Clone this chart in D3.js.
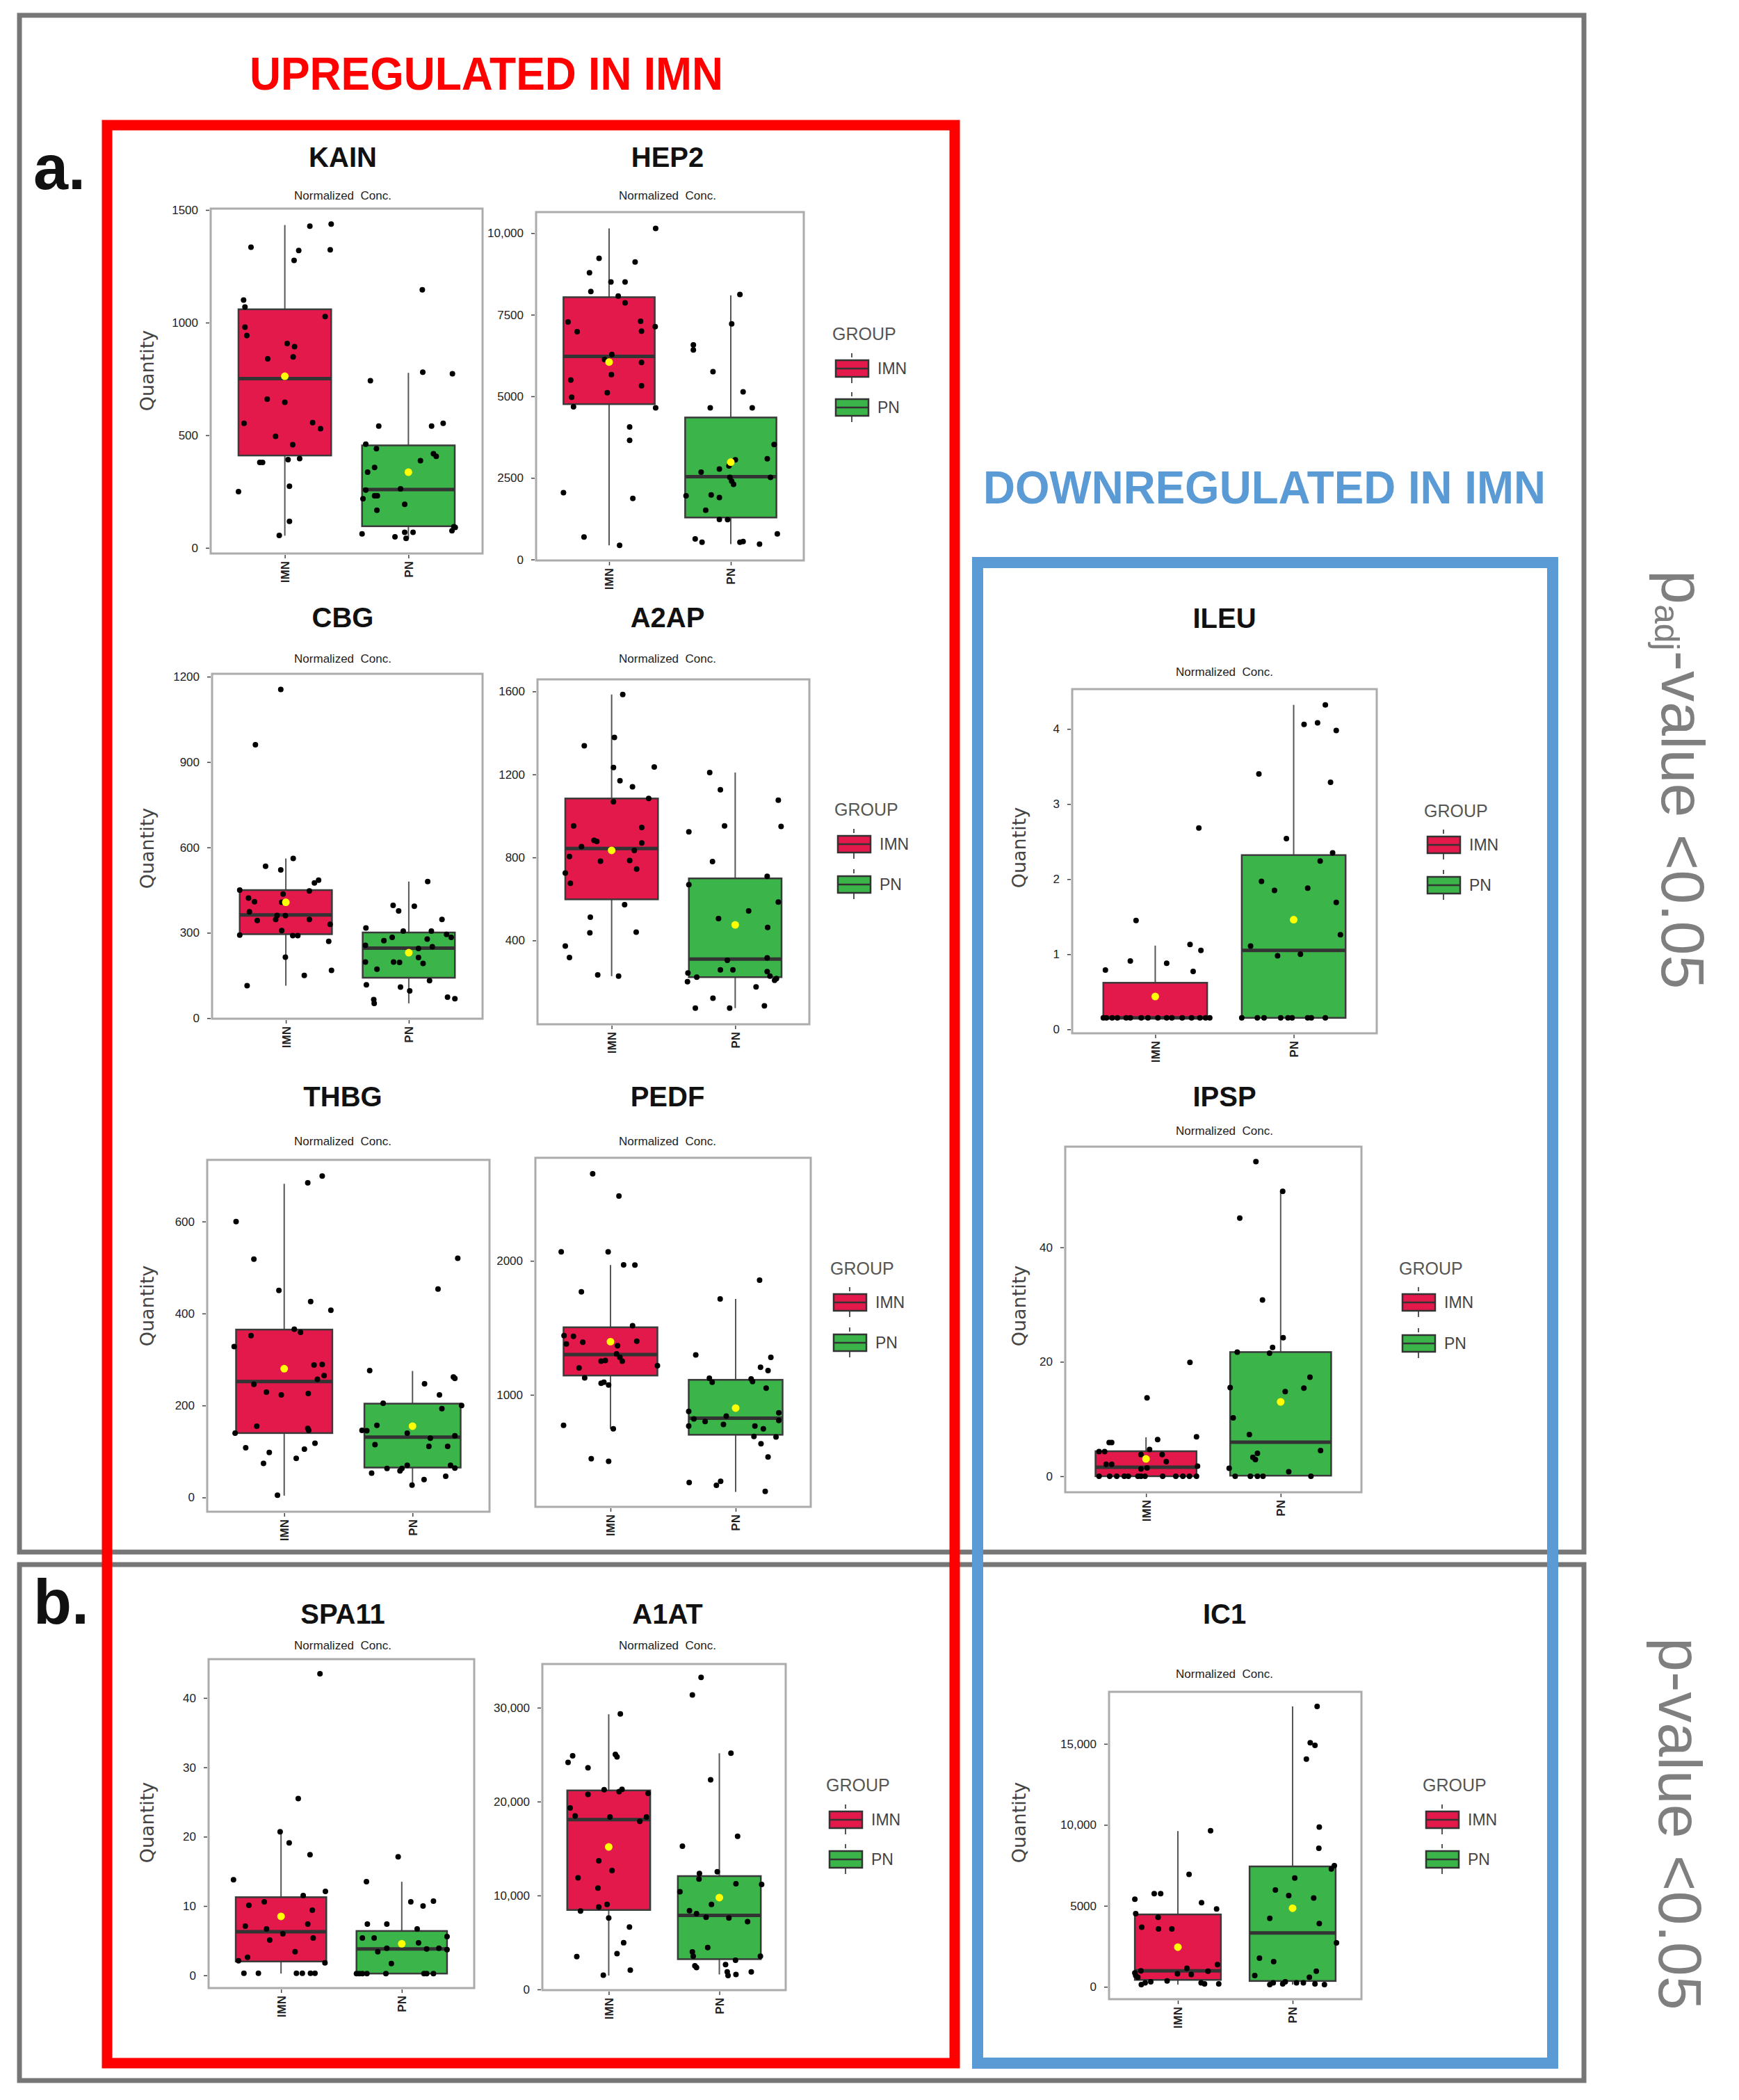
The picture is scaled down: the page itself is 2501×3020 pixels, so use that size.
<!DOCTYPE html>
<html><head><meta charset="utf-8">
<script src="https://cdn.jsdelivr.net/npm/d3@7"></script>
<style>body{margin:0;background:#fff} svg{display:block}</style>
</head><body>
<svg id="c" width="2501" height="3020"></svg>
<script>
// ---------- DATA ----------
const groups = ["IMN", "PN"];
const groupColors = ["#E3194B", "#3BB44A"];
// box stats per group: [q1, median, q3, whiskerLow, whiskerHigh, mean]
// points per group: [value, jitter (fraction of half box width)]
const kainBox = [[410, 751, 1059, 54, 1433, 762], [96, 259, 455, 42, 777, 336]];
const kainPts = [
  [[1335,-0.73],[1276,0.2],[1320,0.3],[1428,0.54],[1437,1.0],[1323,0.98],[1100,-0.89],[1069,-0.86],[980,-0.86],[943,-0.82],[1027,0.87],[907,0.05],[893,0.21],[839,-0.37],[848,0.18],[660,-0.38],[646,0],[553,-0.88],[495,-0.2],[556,0.6],[529,0.77],[458,0.17],[379,-0.54],[379,-0.48],[392,0.07],[396,0.32],[250,-1.0],[274,0.1],[118,0.1],[55,-0.12]],
  [[1146,0.3],[742,-0.82],[780,0.31],[773,0.95],[541,-0.64],[541,0.5],[553,0.75],[460,-0.92],[440,-0.69],[418,0.54],[406,0.6],[387,0.26],[336,-0.88],[357,-0.73],[257,-0.92],[262,-0.17],[218,-0.98],[231,-0.73],[231,-0.67],[167,-0.68],[193,-0.08],[62,-1.0],[49,-0.29],[69,-0.08],[69,0.1],[42,-0.05],[76,0.94],[94,0.98],[91,1.01]]
];
const hep2Box = [[4760, 6223, 8036, 433, 10143, 6048], [1286, 2538, 4351, 469, 8095, 2983]];
const hep2Pts = [
  [[10141,1.02],[9228,-0.22],[9113,0.57],[8784,-0.43],[8503,0.04],[8503,0.35],[8211,-0.4],[8070,0.2],[7861,0.35],[7276,-0.9],[7300,0.69],[6982,-0.7],[6995,0.71],[7136,1.01],[6283,0.06],[6129,-0.1],[6035,0.71],[5662,0.05],[5498,-0.84],[4971,-0.82],[5323,0.71],[5112,-0.04],[4679,-0.78],[4645,1.02],[4058,0.45],[3649,0.45],[2047,-1.0],[1872,0.52],[691,-0.55],[433,0.23]],
  [[8117,0.2],[7217,0.02],[6573,-0.82],[6421,-0.82],[5756,-0.39],[5135,0.27],[4645,-0.45],[4645,0.47],[3521,0.95],[3088,0.8],[3054,0.1],[2866,-0.04],[2772,-0.25],[2678,-0.65],[2514,-0.02],[2397,0.02],[2305,0.06],[2514,0.87],[1953,-0.98],[1977,-0.43],[1896,-0.25],[1510,-0.55],[1228,-0.25],[1220,-0.07],[631,-0.78],[527,-0.63],[527,0.2],[548,0.27],[469,0.63],[785,1.02]]
];
const cbgBox = [[295, 363, 450, 114, 561, 407], [142, 246, 301, 52, 480, 230]];
const cbgPts = [
  [[1155,-0.11],[961,-0.66],[561,0.16],[534,-0.44],[521,-0.11],[485,0.71],[475,0.62],[447,0.51],[450,-1.0],[422,-0.81],[409,-0.68],[436,-0.06],[407,-0.09],[374,-0.79],[343,-0.62],[361,-0.19],[347,-0.22],[360,-0.01],[347,0.51],[330,0.96],[308,-0.09],[292,-1.0],[290,0.15],[290,0.26],[270,0.93],[168,0.99],[150,0.4],[214,-0.01],[114,-0.84]],
  [[480,0.41],[396,-0.34],[393,0.12],[377,-0.22],[347,0.72],[317,-0.93],[306,-0.12],[306,0.49],[294,0.82],[284,0.92],[284,-0.36],[272,-0.54],[278,0.4],[256,-0.94],[251,0.51],[245,0.21],[197,-0.94],[197,-0.33],[196,-0.2],[213,0.21],[192,0.31],[172,-0.69],[132,0.45],[117,-0.92],[109,-0.18],[96,0.02],[65,-0.76],[52,-0.75],[74,0.84],[68,1.0]]
];
const a2apBox = [[598, 843, 1084, 228, 1585, 834], [223, 310, 699, 74, 1209, 475]];
const a2apPts = [
  [[1585,0.24],[1378,0.06],[1338,-0.59],[1233,0.04],[1236,0.92],[1170,0.18],[1140,0.45],[1068,0.04],[1084,0.8],[952,-0.82],[944,0.65],[882,-0.38],[877,-0.32],[852,-0.65],[870,0.65],[834,0.49],[804,-0.91],[782,-0.24],[785,0.39],[744,0.54],[725,-1.0],[675,-0.89],[572,0.28],[512,-0.46],[437,-0.47],[440,0.53],[373,-1.0],[318,-0.91],[234,-0.3],[228,0.15]],
  [[1209,-0.55],[1126,-0.32],[1076,0.93],[952,-0.23],[949,0.99],[923,-1.0],[780,-0.49],[709,0.69],[669,-1.0],[585,0.93],[542,0.29],[505,-0.36],[463,0.7],[316,0.69],[304,-0.17],[258,-0.32],[258,-0.05],[250,0.69],[243,-1.02],[223,-0.83],[228,0.75],[208,0.85],[216,0.89],[201,-1.03],[176,0.45],[122,-0.48],[74,-0.86],[74,-0.12],[85,0.63]]
];
const thbgBox = [[140, 252, 365, 4, 682, 280], [65, 131, 204, 27, 275, 155]];
const thbgPts = [
  [[699,0.79],[684,0.49],[600,-1.0],[518,-0.63],[450,-0.11],[426,0.55],[407,0.97],[366,0.21],[359,0.34],[352,-0.69],[328,-1.04],[289,0.79],[288,0.62],[265,0.83],[257,0.69],[246,-0.63],[229,-0.37],[223,-0.06],[226,0.5],[150,0.49],[146,0.51],[155,-0.57],[140,-1.02],[108,-0.8],[118,0.64],[105,0.42],[98,-0.31],[85,0.25],[74,-0.43],[5,-0.14]],
  [[520,0.94],[453,0.53],[276,-0.89],[247,0.25],[262,0.85],[259,0.88],[223,0.56],[205,-0.61],[200,1.02],[193,0.61],[157,-0.74],[146,-1.05],[145,-0.95],[140,-0.11],[129,0.37],[134,0.88],[115,-0.78],[111,0.34],[111,0.73],[63,-0.53],[63,-0.22],[70,-0.11],[58,-0.26],[70,0.79],[64,0.88],[53,-0.85],[39,0.24],[46,0.69],[27,-0.01]]
];
const pedfBox = [[1144, 1300, 1504, 747, 1968, 1397], [702, 826, 1112, 275, 1715, 901]];
const pedfPts = [
  [[2650,-0.38],[2484,0.18],[2067,-1.05],[2067,-0.05],[1970,0.28],[1968,0.52],[1769,-0.62],[1516,0.47],[1442,-0.99],[1437,-0.79],[1380,-0.94],[1392,-0.59],[1400,0.56],[1367,0.15],[1305,0.13],[1280,0.2],[1251,-0.2],[1256,-0.11],[1251,0.25],[1201,-0.67],[1218,1.0],[1127,-0.55],[1094,-0.14],[1087,-0.2],[1074,-0.04],[772,-1.0],[747,0.06],[524,-0.41],[504,-0.04]],
  [[1856,0.51],[1715,-0.33],[1298,-0.85],[1280,0.75],[1206,0.53],[1181,0.69],[1124,-0.56],[1094,-0.5],[1119,0.33],[1099,0.36],[1050,0.65],[876,-1.0],[866,0.92],[809,0.92],[801,-0.65],[821,-0.89],[841,-0.2],[767,-1.0],[779,-0.26],[767,0.41],[747,0.59],[690,0.39],[685,0.86],[635,0.54],[536,0.69],[345,-0.99],[325,-0.41],[355,-0.32],[280,0.63]]
];
const ileuBox = [[0.153, 0.153, 0.62, 0.153, 1.115, 0.437], [0.153, 1.05, 2.32, 0.153, 4.32, 1.46]];
const ileuPts = [
  [[2.68,0.84],[1.45,-0.37],[1.13,0.67],[1.05,0.88],[0.91,-0.48],[0.88,0.22],[0.79,-0.96],[0.77,0.73],[0.153,-1.0],[0.153,-0.94],[0.153,-0.83],[0.153,-0.73],[0.153,-0.56],[0.153,-0.48],[0.153,-0.27],[0.153,-0.14],[0.153,0.05],[0.153,0.22],[0.153,0.32],[0.153,0.52],[0.153,0.7],[0.153,0.86],[0.153,0.97],[0.153,1.05]],
  [[4.32,0.61],[4.06,0.2],[4.08,0.46],[3.98,0.82],[3.40,-0.67],[3.29,0.71],[2.54,-0.14],[2.35,0.75],[2.24,0.51],[1.97,-0.62],[1.85,-0.37],[1.88,0.27],[1.69,0.82],[1.26,0.9],[1.11,-0.83],[0.98,-0.31],[1.0,0.13],[0.153,-1.0],[0.153,-0.7],[0.153,-0.57],[0.153,-0.25],[0.153,-0.11],[0.153,-0.03],[0.153,0.27],[0.153,0.34],[0.153,0.61]]
];
const ipspBox = [[0, 1.57, 4.37, 0, 6.8, 3.03], [0.1, 5.94, 21.7, 0, 49.8, 13.0]];
const ipspPts = [
  [[19.9,0.87],[13.7,0.02],[6.4,0.23],[6.9,1.0],[5.9,-0.73],[5.9,-0.68],[4.66,0.07],[4.3,-0.93],[4.3,-0.82],[3.78,-0.1],[3.78,0.32],[2.56,0.4],[2.1,-0.79],[2.1,-0.68],[1.75,1.02],[1.28,-0.1],[1.46,0.02],[0,-0.93],[0,-0.72],[0,-0.58],[0,-0.43],[0,-0.35],[0,-0.16],[0,-0.1],[0,-0.02],[0,0.33],[0,0.59],[0,0.73],[0,0.86],[0,1.0]],
  [[55.0,-0.49],[49.8,0.04],[45.1,-0.81],[30.8,-0.36],[24.2,0.05],[22.5,-0.16],[21.5,-0.22],[21.7,-0.86],[17.3,0.58],[15.4,0.46],[14.8,0.09],[15.5,-1.0],[10.2,-0.94],[7.3,-0.62],[4.5,0.79],[4.0,-0.46],[3.3,-0.55],[2.9,-0.5],[0.8,0.16],[1.4,-1.02],[0,-0.9],[0,-0.6],[0,-0.46],[0,-0.35],[0,0.6]]
];
const spa11Box = [[2.0, 6.3, 11.27, 0.26, 20.7, 8.5], [0.26, 3.8, 6.4, 0.26, 13.5, 4.56]];
const spa11Pts = [
  [[43.5,0.86],[25.5,0.38],[20.7,-0.02],[19.1,0.18],[17.4,0.64],[13.8,-1.05],[12.1,0.98],[11.5,0.49],[10.6,-0.37],[10.1,-0.71],[9.4,0.69],[7.1,-0.79],[7.4,0.59],[6.7,-0.32],[6.0,0.04],[5.4,0.71],[5.1,-0.25],[3.4,0.31],[2.6,-0.74],[2.1,-0.94],[1.8,0.97],[0.3,-0.82],[0.3,-0.5],[0.3,0.34],[0.3,0.47],[0.3,0.65],[0.3,0.75]],
  [[17.1,-0.08],[13.5,-0.78],[10.6,0.2],[10.7,0.7],[10.0,0.47],[7.4,-0.76],[7.4,-0.33],[6.7,0.34],[5.6,1.0],[5.4,-0.87],[5.4,-0.61],[4.7,0.37],[3.4,-0.53],[3.9,-0.33],[3.8,0.55],[3.9,0.82],[3.7,1.0],[1.7,-0.23],[0.26,-1.0],[0.26,-0.94],[0.26,-0.87],[0.26,-0.77],[0.26,-0.35],[0.26,0.49],[0.26,0.55],[0.26,0.7]]
];
const a1atBox = [[8460, 18083, 21188, 1475, 29298, 15173], [3221, 7877, 12068, 1591, 25146, 9779]];
const a1atPts = [
  [[29337,0.28],[24874,-0.87],[24175,-0.98],[23593,-0.5],[25029,0.16],[24757,0.2],[21265,-0.11],[20761,-0.5],[21071,0.25],[21304,0.32],[20877,0.95],[19325,-0.93],[18471,-0.81],[18355,0.03],[17889,0.75],[18355,0.91],[13698,-0.24],[12650,0.08],[11874,-0.74],[10788,-0.26],[9042,-0.04],[8770,-0.24],[8343,-0.68],[7606,0],[6636,0.5],[4967,0.36],[3803,0.2],[3492,-0.77],[2057,0.52],[1513,-0.13]],
  [[33217,-0.44],[31354,-0.65],[25146,0.28],[22313,-0.21],[16298,0.44],[15250,-0.89],[12340,-0.48],[12534,-0.05],[11758,-0.49],[11253,0.4],[11176,1.02],[10400,-0.95],[9042,-0.19],[8382,-0.72],[8072,-0.55],[7683,-0.32],[7606,0.23],[7218,0.68],[4463,-0.28],[3997,-0.65],[3531,-0.63],[3531,0.99],[3104,0.39],[2522,-0.59],[2328,-0.55],[2639,0.15],[1863,0.19],[1863,0.77],[1591,0.4],[1475,0.21]]
];
const ic1Box = [[427, 988, 4469, 135, 9612, 2448], [359, 3324, 7433, 135, 17314, 4851]];
const ic1Pts = [
  [[9634,0.76],[6939,0.26],[5749,-0.55],[5749,-0.4],[5412,-1.0],[5188,0.55],[4806,0.9],[4514,-0.98],[4289,-0.46],[3683,-0.84],[3571,-0.45],[3571,-0.14],[1370,0.92],[1145,0.21],[988,-0.86],[808,-0.01],[764,0.31],[966,0.7],[696,-0.98],[584,-0.93],[853,-1.0],[247,-0.76],[314,-0.63],[359,-0.25],[247,0.54],[180,0.62],[180,0.95],[135,-0.85]],
  [[17314,0.57],[15069,0.41],[14911,0.52],[14058,0.32],[9859,0.62],[8557,0.61],[7478,0.97],[7276,0.9],[6715,0.05],[5973,-0.4],[5637,-0.09],[5479,0.49],[4222,-0.53],[3907,0.62],[2717,1.02],[1774,-0.77],[1550,-0.44],[966,0.55],[584,0.39],[696,-0.88],[135,-0.53],[180,-0.23],[314,-0.17],[247,0.09],[247,0.25],[180,0.52],[135,0.74],[247,-0.45]]
];
const kainTicks = [0, 500, 1000, 1500];
const hep2Ticks = [0, 2500, 5000, 7500, 10000];
const cbgTicks = [0, 300, 600, 900, 1200];
const a2apTicks = [400, 800, 1200, 1600];
const thbgTicks = [0, 200, 400, 600];
const pedfTicks = [1000, 2000];
const ileuTicks = [0, 1, 2, 3, 4];
const ipspTicks = [0, 20, 40];
const spa11Ticks = [0, 10, 20, 30, 40];
const a1atTicks = [0, 10000, 20000, 30000];
const ic1Ticks = [0, 5000, 10000, 15000];

// ---------- LAYOUT ----------
const COLS = {L: 493, R: 960, D: 1761};
const panels = [
  {name:"KAIN", col:"L", box:kainBox, pts:kainPts, ticks:kainTicks, rect:[303,300,694,796], dom:[-25,1506], titleY:240, normY:287, qy:533},
  {name:"HEP2", col:"R", box:hep2Box, pts:hep2Pts, ticks:hep2Ticks, rect:[771,305,1156,806], dom:[-30,10644], titleY:240, normY:287},
  {name:"CBG", col:"L", box:cbgBox, pts:cbgPts, ticks:cbgTicks, rect:[305,969,694,1465], dom:[-2,1210], titleY:902, normY:953, qy:1220},
  {name:"A2AP", col:"R", box:a2apBox, pts:a2apPts, ticks:a2apTicks, rect:[773,977,1164,1473], dom:[-4,1658], titleY:902, normY:953},
  {name:"THBG", col:"L", box:thbgBox, pts:thbgPts, ticks:thbgTicks, rect:[298,1668,704,2174], dom:[-31,734], titleY:1591, normY:1647, qy:1878},
  {name:"PEDF", col:"R", box:pedfBox, pts:pedfPts, ticks:pedfTicks, rect:[770,1665,1166,2167], dom:[164,2769], titleY:1591, normY:1647},
  {name:"ILEU", col:"D", box:ileuBox, pts:ileuPts, ticks:ileuTicks, rect:[1542,991,1980,1486], dom:[-0.053,4.53], titleY:903, normY:972, qy:1219},
  {name:"IPSP", col:"D", box:ipspBox, pts:ipspPts, ticks:ipspTicks, rect:[1532,1649,1958,2146], dom:[-2.8,57.6], titleY:1591, normY:1632, qy:1878},
  {name:"SPA11", col:"L", box:spa11Box, pts:spa11Pts, ticks:spa11Ticks, rect:[300,2386,682,2859], dom:[-1.83,45.6], titleY:2335, normY:2372, qy:2621},
  {name:"A1AT", col:"R", box:a1atBox, pts:a1atPts, ticks:a1atTicks, rect:[780,2393,1130,2862], dom:[-78,34650], titleY:2335, normY:2372},
  {name:"IC1", col:"D", box:ic1Box, pts:ic1Pts, ticks:ic1Ticks, rect:[1595,2433,1958,2875], dom:[-764,18213], titleY:2335, normY:2413, qy:2621}
];
const legends = [
  {x:1197, ty:489, keys:[530, 586]},
  {x:1200, ty:1173, keys:[1214, 1272]},
  {x:1194, ty:1833, keys:[1873, 1931]},
  {x:1188, ty:2576, keys:[2617, 2674]},
  {x:2048, ty:1175, keys:[1215, 1273]},
  {x:2012, ty:1833, keys:[1873, 1932]},
  {x:2046, ty:2576, keys:[2617, 2674]}
];

const NARROW = "'Liberation Sans Narrow','Arial Narrow','Liberation Sans',Arial,sans-serif";
const SANS = "'Liberation Sans',Arial,sans-serif";
const svg = d3.select("#c");
svg.append("rect").attr("width",2501).attr("height",3020).attr("fill","#fff");

// ---------- FRAMES ----------
const gray = "#767676";
svg.append("rect").attr("x",28).attr("y",22).attr("width",2250).attr("height",2210)
  .attr("fill","none").attr("stroke",gray).attr("stroke-width",7);
svg.append("rect").attr("x",28).attr("y",2250).attr("width",2250).attr("height",742)
  .attr("fill","none").attr("stroke",gray).attr("stroke-width",7);

svg.append("text").text("a.").attr("x",48).attr("y",272)
  .attr("font-family",SANS).attr("font-weight","bold").attr("font-size",90).attr("fill","#111");
svg.append("text").text("b.").attr("x",48).attr("y",2335)
  .attr("font-family",SANS).attr("font-weight","bold").attr("font-size",90).attr("fill","#111");

svg.append("text").text("UPREGULATED IN IMN").attr("x",359).attr("y",129)
  .attr("textLength",681).attr("lengthAdjust","spacingAndGlyphs")
  .attr("font-family",NARROW).attr("font-weight","bold").attr("font-size",66).attr("fill","#FF0000");
svg.append("text").text("DOWNREGULATED IN IMN").attr("x",1414).attr("y",724)
  .attr("textLength",809).attr("lengthAdjust","spacingAndGlyphs")
  .attr("font-family",NARROW).attr("font-weight","bold").attr("font-size",66).attr("fill","#5B9BD5");

// rotated p-value labels
const pv1 = svg.append("text").attr("transform","translate(2390,820) rotate(90)")
  .attr("font-family",SANS).attr("font-size",88).attr("fill","#7f7f7f");
pv1.append("tspan").text("p");
pv1.append("tspan").text("adj").attr("font-size",50).attr("dy",10);
pv1.append("tspan").text("-value <0.05").attr("dy",-10);
svg.append("text").attr("transform","translate(2386,2355) rotate(90)")
  .attr("font-family",SANS).attr("font-size",88).attr("fill","#7f7f7f").text("p-value <0.05");

// ---------- PANELS ----------
const fmt = v => v >= 10000 ? d3.format(",")(v) : String(v);

function drawPanel(p) {
  const [x0,y0,x1,y1] = p.rect;
  const g = svg.append("g");
  const y = d3.scaleLinear().domain(p.dom).range([y1, y0]);
  const x = d3.scalePoint().domain(groups).range([x0, x1]).padding(0.6);
  const half = x.step() * 0.75 / 2;
  const cx = COLS[p.col];

  g.append("text").text(p.name).attr("x",cx).attr("y",p.titleY).attr("text-anchor","middle")
    .attr("font-family",NARROW).attr("font-weight","bold").attr("font-size",40).attr("fill","#111");
  g.append("text").text("Normalized  Conc.").attr("x",cx).attr("y",p.normY).attr("text-anchor","middle")
    .style("white-space","pre")
    .attr("font-family",SANS).attr("font-size",17).attr("fill","#222");

  g.append("rect").attr("x",x0).attr("y",y0).attr("width",x1-x0).attr("height",y1-y0)
    .attr("fill","#fff").attr("stroke","#ababab").attr("stroke-width",3);

  const ya = g.append("g").attr("transform",`translate(${x0-2},0)`)
    .call(d3.axisLeft(y).tickValues(p.ticks).tickFormat(fmt).tickSize(5).tickPadding(11));
  ya.select(".domain").remove();
  ya.selectAll("line").attr("stroke","#444").attr("stroke-width",1.5);
  ya.selectAll("text").attr("font-family",SANS).attr("font-size",17).attr("fill","#222");

  const xa = g.append("g").attr("transform",`translate(0,${y1+2})`)
    .call(d3.axisBottom(x).tickSize(5));
  xa.select(".domain").remove();
  xa.selectAll("line").attr("stroke","#444").attr("stroke-width",1.5);
  xa.selectAll("text").attr("transform","rotate(-90)").attr("x",-9).attr("y",0).attr("dy","0.35em")
    .attr("text-anchor","end").attr("font-family",SANS).attr("font-size",17).attr("font-weight","bold").attr("fill","#222");

  if (p.qy) {
    svg.append("text").text("Quantity").attr("transform",`translate(${p.col==="L"?221:1475},${p.qy}) rotate(-90)`)
      .attr("text-anchor","middle").attr("font-family","'DejaVu Sans',Verdana,sans-serif")
      .attr("font-size",27).attr("fill","#444");
  }

  groups.forEach((grp, i) => {
    const [q1, med, q3, lo, hi, mean] = p.box[i];
    const c = x(grp);
    const bg = g.append("g");
    bg.append("line").attr("x1",c).attr("x2",c).attr("y1",y(hi)).attr("y2",y(q3)).attr("stroke","#555").attr("stroke-width",2);
    bg.append("line").attr("x1",c).attr("x2",c).attr("y1",y(q1)).attr("y2",y(lo)).attr("stroke","#555").attr("stroke-width",2);
    bg.append("rect").attr("x",c-half).attr("y",y(q3)).attr("width",2*half).attr("height",Math.max(0,y(q1)-y(q3)))
      .attr("fill",groupColors[i]).attr("stroke","#3a3a3a").attr("stroke-width",2.5);
    bg.append("line").attr("x1",c-half).attr("x2",c+half).attr("y1",y(med)).attr("y2",y(med))
      .attr("stroke","#333").attr("stroke-width",5);
    bg.selectAll("circle.pt").data(p.pts[i]).join("circle").attr("class","pt")
      .attr("cx", d => c + d[1]*half).attr("cy", d => y(d[0])).attr("r",4).attr("fill","#000");
    bg.append("circle").attr("cx",c).attr("cy",y(mean)).attr("r",5.5).attr("fill","#FFFF00");
  });
}
panels.forEach(drawPanel);

function drawLegend(L) {
  const g = svg.append("g");
  g.append("text").text("GROUP").attr("x",L.x).attr("y",L.ty)
    .attr("font-family",SANS).attr("font-size",25).attr("fill","#555");
  groups.forEach((grp, i) => {
    const cy = L.keys[i];
    const kx = L.x + 28;
    g.append("line").attr("x1",kx).attr("x2",kx).attr("y1",cy-22).attr("y2",cy+22)
      .attr("stroke","#555").attr("stroke-width",2).attr("stroke-dasharray","6 10 27 10");
    g.append("rect").attr("x",kx-23).attr("y",cy-12).attr("width",47).attr("height",24)
      .attr("fill",groupColors[i]).attr("stroke","#333").attr("stroke-width",2.5);
    g.append("line").attr("x1",kx-23).attr("x2",kx+24).attr("y1",cy).attr("y2",cy)
      .attr("stroke","#333").attr("stroke-width",2.5);
    g.append("text").text(grp).attr("x",L.x+65).attr("y",cy+8)
      .attr("font-family",SANS).attr("font-size",23).attr("fill","#444");
  });
}
legends.forEach(drawLegend);

// ---------- COLOURED BOXES ----------
svg.append("rect").attr("x",154).attr("y",180).attr("width",1219).attr("height",2787)
  .attr("fill","none").attr("stroke","#FF0000").attr("stroke-width",15);
svg.append("rect").attr("x",1406).attr("y",809).attr("width",827).attr("height",2158)
  .attr("fill","none").attr("stroke","#5B9BD5").attr("stroke-width",16);
</script>
</body></html>
